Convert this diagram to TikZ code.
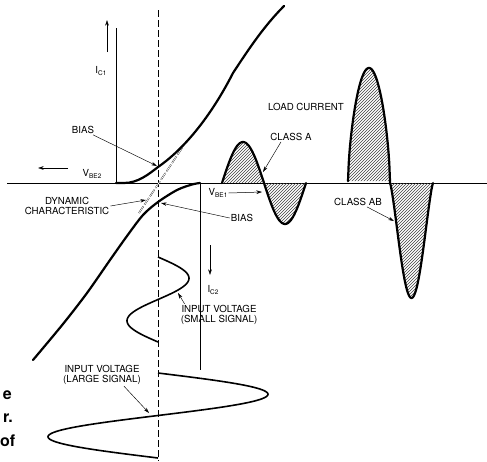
\documentclass[tikz,border=0pt]{standalone}
\usepackage{fontspec}
\setmainfont{TeX Gyre Heros}
\setsansfont{TeX Gyre Heros}
\usepackage{tikz}
\usetikzlibrary{arrows.meta,patterns}
\newcommand{\lent}[1]{\raisebox{-0.55ex}{\fontsize{6.5}{6.5}\selectfont #1}}
\tikzset{
  tengely/.style={line width=0.8pt},
  gorbe/.style={line width=2.2pt,line cap=round,line join=round},
  jel/.style={line width=1.6pt},
  nyil/.style={line width=0.5pt,-{Stealth[length=2mm,width=1.3mm]}},
  mutato/.style={line width=0.45pt,-{Stealth[length=2mm,width=1.2mm]}},
  felirat/.style={inner sep=1pt,align=center,font=\fontsize{9.7}{10.7}\selectfont},
  csik/.style={pattern=north east lines,pattern color=black!75},
  szagg/.style={line width=0.7pt,dash pattern=on 7pt off 3pt},
  dinkar/.style={line width=0.3pt,double,double distance=0.8pt,dash pattern=on 8pt off 2pt},
  tored/.style={inner sep=0pt,font=\fontsize{16}{16}\selectfont\bfseries},
}

\begin{document}
\begin{tikzpicture}[x=1pt,y=-1pt]
  \useasboundingbox (0,0) rectangle (487,461);
  % tengelyek
  \coordinate (bal) at (7,183);
  \coordinate (jobb) at (487,183);
  \coordinate (c1t) at (116,28);
  \coordinate (c1o) at (116,183);
  \coordinate (c2o) at (200,183);
  \coordinate (c2a) at (200,370);
  \coordinate (fenn) at (158,10);
  \coordinate (lenn) at (158,461);
  \draw[tengely] (bal) -- (jobb);
  \draw[tengely] (c1t) -- (c1o);
  \draw[tengely] (c2o) -- (c2a);
  \draw[szagg] (fenn) -- (lenn);
  % dinamikus karakterisztika
  \coordinate (d1) at (139,213);
  \coordinate (d2) at (182,148);
  \draw[dinkar] (d1) -- (d2);
  % atviteli gorbek
  \draw[gorbe] (c1o) -- (124,183) .. controls (138,183) and (149,174) .. (158,167)
    .. controls (180,152) and (208,122) .. (233,73)
    .. controls (250,47) and (265,25) .. (284,6);
  \draw[gorbe] plot[smooth] coordinates {(200,183) (192,184.5) (177,190) (158,202)
    (143,215) (127,236) (110,260) (87,293) (63,324) (33,360)};
  % terhelesi aram
  \fill[csik] plot[domain=0:360,samples=73] ({222+84*(\x/360)},{183-41*sin(\x)}) -- cycle;
  \draw[gorbe] plot[domain=0:360,samples=73] ({222+84*(\x/360)},{183-41*sin(\x)});
  \fill[csik] plot[domain=0:180,samples=61] ({348+42*(\x/180)},{183-115*(max(sin(\x),0.001))^0.6}) -- cycle;
  \fill[csik] plot[domain=180:360,samples=61] ({390+43*((\x-180)/180)},{183+115*(max(-sin(\x),0.001))^1.3}) -- cycle;
  \draw[gorbe] plot[domain=0:180,samples=61] ({348+42*(\x/180)},{183-115*(max(sin(\x),0.001))^0.6})
    -- plot[domain=180:360,samples=61] ({390+43*((\x-180)/180)},{183+115*(max(-sin(\x),0.001))^1.3});
  % bemeneti feszultseg
  \draw[jel] plot[domain=0:360,samples=73] ({158+31*sin(\x)},{257+85*(\x/360)});
  \draw[jel] plot[domain=0:360,samples=97] ({158+110*sin(\x)},{373+85*(\x/360)});
  % feliratok
  \node[felirat] (ic1) at (101,71) {I\lent{C1}};
  \coordinate (ic1a) at (107,52); \coordinate (ic1b) at (107,20);
  \draw[nyil] (ic1a) -- (ic1b);
  \node[felirat] (vbe2) at (92,174) {V\lent{BE2}};
  \coordinate (vb2a) at (68,168); \coordinate (vb2b) at (38,168);
  \draw[nyil] (vb2a) -- (vb2b);
  \node[felirat] (bias1) at (83,130) {BIAS};
  \coordinate (p1) at (157,166);
  \draw[mutato] (bias1) -- (p1);
  \node[felirat] (dyn) at (67,206) {DYNAMIC\\CHARACTERISTIC};
  \coordinate (p2) at (146,200);
  \draw[mutato] (dyn.east) -- (p2);
  \node[felirat] (bias2) at (242,218) {BIAS};
  \coordinate (p3) at (161,203);
  \draw[mutato] (bias2.west) -- (p3);
  \node[felirat] (vbe1) at (218,193) {V\lent{BE1}};
  \coordinate (vb1p) at (262,192);
  \draw[nyil] (vbe1.east) -- (vb1p);
  \node[felirat] (load) at (306,107) {LOAD CURRENT};
  \node[felirat] (clA) at (291,137) {CLASS A};
  \coordinate (pA) at (263,172);
  \draw[mutato] ([xshift=-10pt]clA.south) -- (pA);
  \node[felirat] (clAB) at (358,202) {CLASS AB};
  \coordinate (pAB) at (394,221);
  \draw[mutato] ([xshift=9pt]clAB.south) -- (pAB);
  \node[felirat] (ic2) at (213,290) {I\lent{C2}};
  \coordinate (ic2a) at (210,245); \coordinate (ic2b) at (210,275);
  \draw[nyil] (ic2a) -- (ic2b);
  \node[felirat] (kicsi) at (219,315) {INPUT VOLTAGE\\(SMALL SIGNAL)};
  \coordinate (pS) at (178,293);
  \draw[mutato] ([xshift=5pt]kicsi.north west) -- (pS);
  \node[felirat] (nagy) at (102,375) {INPUT VOLTAGE\\(LARGE SIGNAL)};
  \coordinate (pL) at (149,413);
  \draw[mutato] ([xshift=22pt]nagy.south) -- (pL);
  % levagott kepalairas
  \node[tored,anchor=base east] (t1) at (12,399) {e};
  \node[tored,anchor=base east] (t2) at (13,422) {r.};
  \node[tored,anchor=base west] (t3) at (0,446) {of};
\end{tikzpicture}
\end{document}
